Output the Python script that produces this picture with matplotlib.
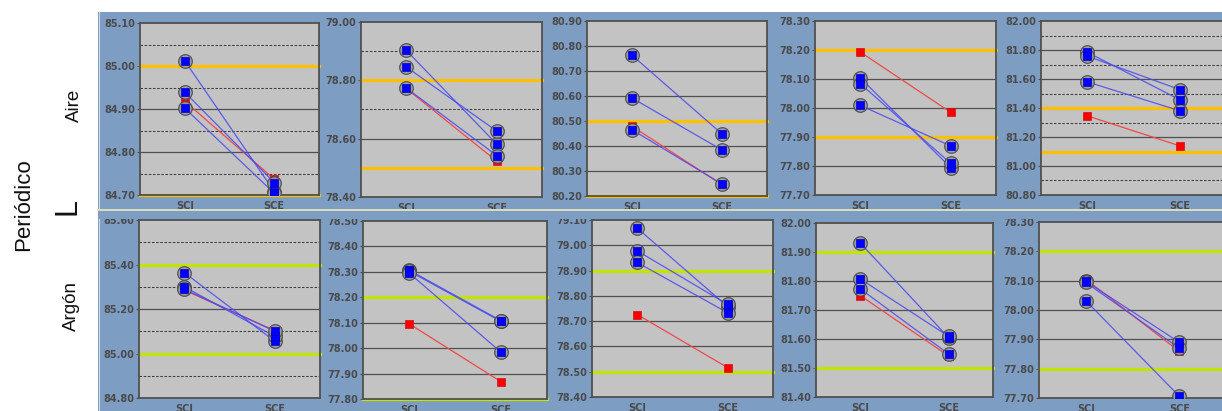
import matplotlib
matplotlib.use("Agg")
import matplotlib.pyplot as plt
from matplotlib.patches import Rectangle
from matplotlib.lines import Line2D
import numpy as np

W, H, DPI = 1222, 411, 100

groups = ["SCI", "SCE"]

# ---- Aire (upper row) ----
aire_ylim = [(84.70, 85.10), (78.40, 79.00), (80.20, 80.90), (77.70, 78.30), (80.80, 82.00)]
aire_step = [0.1, 0.2, 0.1, 0.1, 0.2]
aire_dashed = [True, True, False, False, True]
aire_limits = [(85.00, 84.70), (78.80, 78.50), (80.50, 80.20), (78.20, 77.90), (81.40, 81.10)]
aire_sci = [[85.012, 84.939, 84.902],
            [78.903, 78.846, 78.774],
            [80.763, 80.592, 80.465],
            [78.104, 78.084, 78.009],
            [81.785, 81.758, 81.580]]
aire_sce = [[84.708, 84.729, 84.704],
            [78.581, 78.626, 78.542],
            [80.448, 80.384, 80.248],
            [77.794, 77.809, 77.869],
            [81.457, 81.527, 81.381]]
aire_ref_sci = [84.918, 78.772, 80.479, 78.193, 81.346]
aire_ref_sce = [84.737, 78.523, 80.245, 77.985, 81.139]

# ---- Argón (lower row) ----
argon_ylim = [(84.80, 85.60), (77.80, 78.50), (78.40, 79.10), (81.40, 82.00), (77.70, 78.30)]
argon_step = [0.2, 0.1, 0.1, 0.1, 0.1]
argon_dashed = [True, False, False, False, False]
argon_limits = [(85.40, 85.00), (78.20, 77.80), (78.90, 78.50), (81.90, 81.50), (78.20, 77.80)]
argon_sci = [[85.364, 85.300, 85.289],
             [78.307, 78.303, 78.296],
             [79.068, 78.978, 78.932],
             [81.931, 81.807, 81.773],
             [78.098, 78.094, 78.032]]
argon_sce = [[85.055, 85.077, 85.100],
             [78.108, 78.105, 77.984],
             [78.757, 78.766, 78.733],
             [81.604, 81.609, 81.548],
             [77.890, 77.870, 77.706]]
argon_ref_sci = [85.285, 78.096, 78.726, 81.750, 78.105]
argon_ref_sce = [85.103, 77.868, 78.516, 81.541, 77.859]

# Panel boxes in pixels: left, top, right, bottom
boxes_top = [(140, 23, 319, 195), (361, 22, 542, 197), (587, 21, 767, 196),
             (815, 21, 996, 195), (1041, 21, 1226, 195)]
boxes_bottom = [(139, 220, 320, 398), (363, 221, 547, 399), (592, 220, 773, 397),
                (816, 223, 993, 397), (1039, 222, 1226, 398)]

BG_BLUE = "#7d9dc3"
PLOT_GRAY = "#c3c3c3"
GRID = "#505050"
TICK_FONT = dict(family="DejaVu Sans", weight="bold", size=7, color="#4a4a4a")

fig = plt.figure(figsize=(W / DPI, H / DPI), dpi=DPI)
fig.patch.set_facecolor("white")

# blue backdrop of the control-chart grid
fig.patches.append(Rectangle((98 / W, 0), (W - 98) / W, (H - 12) / H,
                             transform=fig.transFigure, facecolor=BG_BLUE,
                             edgecolor="none", zorder=-2))
fig.lines.append(Line2D([98.5 / W, 98.5 / W], [0, 1 - 12 / H], transform=fig.transFigure,
                        color="#cfd6df", lw=0.8, zorder=-1))


def add_panel(box, ylim, step, dashed, limits, sci, sce, ref_sci, ref_sce, limit_color):
    l, t, r, b = box
    ax = fig.add_axes([l / W, 1 - b / H, (r - l) / W, (b - t) / H])
    ax.set_facecolor(PLOT_GRAY)
    lo, hi = ylim
    ax.set_ylim(lo, hi)
    ax.set_xlim(-0.5, 1.5)

    majors = np.round(np.arange(lo, hi + step / 2, step), 2)
    ax.set_yticks(majors)
    ax.set_yticklabels([f"{v:.2f}" for v in majors], fontdict=TICK_FONT)
    ax.set_xticks([0, 1])
    ax.set_xticklabels(groups, fontdict=TICK_FONT)
    ax.tick_params(axis="y", length=2, width=0.8, color=GRID, pad=1.5)
    ax.tick_params(axis="x", length=0, pad=4)

    for v in majors[1:-1]:
        ax.axhline(v, color=GRID, lw=0.9, zorder=1)
    if dashed:
        for v in np.round(np.arange(lo + step / 2, hi, step), 3):
            ax.axhline(v, color="#3c3c3c", lw=0.75, ls=(0, (2.4, 1.6)), zorder=1)
    for v in limits:
        ax.axhline(v, color=limit_color, lw=2.3, zorder=2, clip_on=False)

    xs = [0, 1]
    ax.plot(xs, [ref_sci, ref_sce], color="#f04848", lw=0.9, zorder=3)
    for a, c in zip(sci, sce):
        ax.plot(xs, [a, c], color="#4848f0", lw=0.9, alpha=0.85, zorder=3)
    ax.plot(xs, [ref_sci, ref_sce], ls="none", marker="s", ms=5.6,
            mfc="#ff0000", mec="#cc1010", mew=0.5, zorder=4)
    for a, c in zip(sci, sce):
        ax.plot(xs, [a, c], ls="none", marker="o", ms=9.8,
                mfc="#9c9c9c", mec="#4a4a4a", mew=0.9, alpha=0.9, zorder=5)
        ax.plot(xs, [a, c], ls="none", marker="s", ms=5.6,
                mfc="#0000ff", mec="#0000c8", mew=0.5, zorder=6)

    for s in ax.spines.values():
        s.set_color("#505050")
        s.set_linewidth(1.3)
    return ax


for i in range(5):
    add_panel(boxes_top[i], aire_ylim[i], aire_step[i], aire_dashed[i], aire_limits[i],
              aire_sci[i], aire_sce[i], aire_ref_sci[i], aire_ref_sce[i], "#ffc000")
    add_panel(boxes_bottom[i], argon_ylim[i], argon_step[i], argon_dashed[i], argon_limits[i],
              argon_sci[i], argon_sce[i], argon_ref_sci[i], argon_ref_sce[i], "#c2e400")

# band separating the two rows (it trims the upper row's category labels)
fig.patches.append(Rectangle((98 / W, 1 - 219 / H), (W - 98) / W, 10 / H,
                             transform=fig.transFigure, facecolor=BG_BLUE,
                             edgecolor="none", zorder=10))
fig.lines.append(Line2D([98 / W, 1], [1 - 210.5 / H] * 2, transform=fig.transFigure,
                        color="#e2e2bc", lw=1.3, zorder=11))

# row and block labels
LBL = dict(family="Liberation Sans", color="#111111", rotation=90,
           ha="center", va="center")
fig.text(24 / W, 1 - 205 / H, "Periódico", fontsize=16, **LBL)
fig.text(67 / W, 1 - 206 / H, "L", fontsize=22, **LBL)
fig.text(74 / W, 1 - 105 / H, "Aire", fontsize=13.5, **LBL)
fig.text(71 / W, 1 - 306 / H, "Argón", fontsize=13.5, **LBL)

fig.savefig("out.png", dpi=DPI)
